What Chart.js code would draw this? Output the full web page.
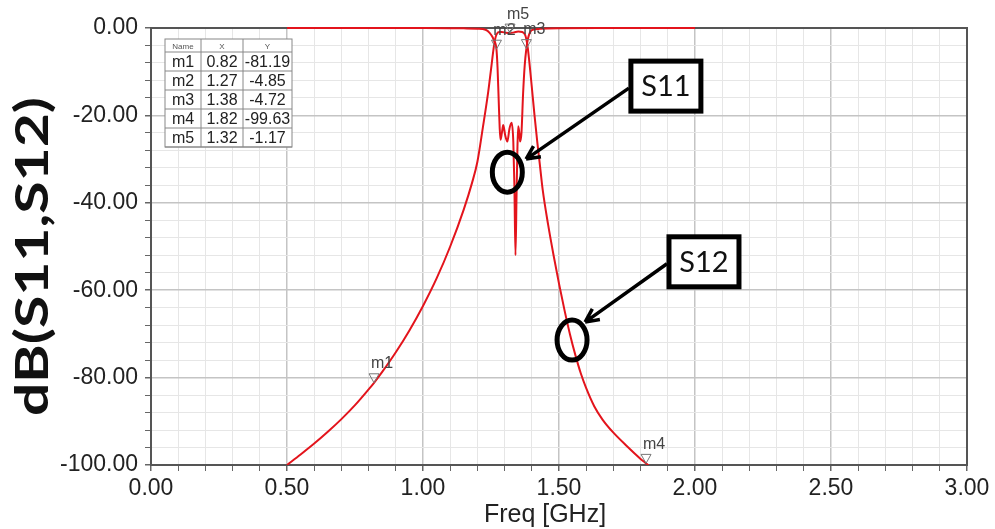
<!DOCTYPE html>
<html>
<head>
<meta charset="utf-8">
<script src="https://cdn.jsdelivr.net/npm/chart.js@4.4.0/dist/chart.umd.min.js"></script>
<style>
  html, body { margin: 0; padding: 0; background: #fff; }
</style>
</head>
<body>
<canvas id="chart" width="995" height="529"></canvas>
<script>
// S11 (reflection), GHz / dB
const s11Freq = [0.50, 0.80, 1.00, 1.10, 1.15, 1.20, 1.23, 1.245, 1.255, 1.262, 1.27, 1.274, 1.278, 1.282, 1.285,
  1.290, 1.295, 1.302, 1.310, 1.318, 1.326, 1.332, 1.336, 1.340, 1.344, 1.347, 1.350, 1.354, 1.357, 1.362,
  1.368, 1.374, 1.38, 1.386, 1.392, 1.40, 1.43, 1.50, 1.70, 2.00];
const s11Db = [0, 0, -0.02, -0.05, -0.08, -0.15, -0.4, -1.1, -2.0, -3.0, -4.85, -9, -16, -23, -25.6,
  -24, -22.2, -24.5, -26, -23, -21.7, -26, -36, -52, -38, -28, -22.5, -24, -26, -24,
  -15, -8.5, -4.72, -2.4, -1.2, -0.5, -0.2, -0.08, -0.02, 0];

// S12 (transmission)
const s12Freq = [0.50, 0.55, 0.60, 0.65, 0.70, 0.75, 0.80, 0.82, 0.85, 0.90, 0.95, 1.00, 1.05, 1.10, 1.15,
  1.18, 1.20, 1.22, 1.24, 1.25, 1.26, 1.265, 1.27, 1.28, 1.29, 1.305, 1.32, 1.335, 1.35, 1.365,
  1.375, 1.38, 1.385, 1.39, 1.395, 1.40, 1.41, 1.42, 1.43, 1.44, 1.46, 1.48, 1.50, 1.52, 1.54,
  1.56, 1.58, 1.60, 1.63, 1.66, 1.70, 1.75, 1.80, 1.82, 1.86];
const s12Db = [-100, -97.6, -95.1, -92.4, -89.5, -86.3, -82.7, -81.19, -78.7, -74.2, -69.2, -63.6, -57.3, -50.0, -41.5,
  -35.5, -30.6, -22.8, -14.5, -9.5, -4.5, -2.6, -1.5, -0.9, -0.9, -1.1, -1.17, -1.0, -0.8, -0.9,
  -1.5, -2.6, -4.5, -7.2, -10.3, -13.5, -20, -26, -31.5, -37, -45, -52, -58.5, -64.5, -70,
  -74.8, -79, -82.4, -86.6, -89.6, -92.6, -95.7, -98.6, -99.63, -101.7];

// markers (same as the readout table)
const markerNames = ['m1', 'm2', 'm3', 'm4', 'm5'];
const markerFreq = [0.82, 1.27, 1.38, 1.82, 1.32];
const markerDb = [-81.19, -4.85, -4.72, -99.63, -1.17];

// callouts: label, circle centre, arrow tip, box centre (data units)
const calloutLabels = ['S11', 'S12'];
const calloutCircle = [[1.31, -33], [1.548, -71.4]];
const calloutTip = [[1.379, -30], [1.596, -67.3]];
const calloutBox = [[1.893, -13.3], [2.033, -53.5]];

const red = '#e3141c';
const isMajorX = v => Math.abs(v * 2 - Math.round(v * 2)) < 1e-6;
const isMajorY = v => Math.abs(v % 20) < 1e-6;

function arrow(ctx, x0, y0, x1, y1) {
  ctx.beginPath();
  ctx.moveTo(x0, y0);
  ctx.lineTo(x1, y1);
  const ang = Math.atan2(y1 - y0, x1 - x0);
  for (const s of [-1, 1]) {
    ctx.moveTo(x1, y1);
    ctx.lineTo(x1 - 15 * Math.cos(ang + s * 0.45), y1 - 15 * Math.sin(ang + s * 0.45));
  }
  ctx.stroke();
}

const overlay = {
  id: 'overlay',
  beforeDatasetsDraw(chart) {
    const { ctx, chartArea: a } = chart;
    ctx.save();
    ctx.strokeStyle = '#555';
    ctx.lineWidth = 2;
    ctx.strokeRect(a.left, a.top, a.right - a.left, a.bottom - a.top);
    ctx.restore();
  },
  afterDatasetsDraw(chart) {
    const { ctx, chartArea: a, scales: { x, y } } = chart;
    ctx.save();

    // marker triangles + names
    ctx.font = '16px "Liberation Sans", Arial';
    ctx.textAlign = 'center';
    ctx.textBaseline = 'middle';
    markerNames.forEach((n, i) => {
      const px = x.getPixelForValue(markerFreq[i]);
      const py = y.getPixelForValue(markerDb[i]);
      ctx.beginPath();
      ctx.moveTo(px, py);
      ctx.lineTo(px - 5, py - 9);
      ctx.lineTo(px + 5, py - 9);
      ctx.closePath();
      ctx.strokeStyle = '#777';
      ctx.lineWidth = 1;
      ctx.stroke();
      ctx.fillStyle = '#444';
      ctx.fillText(n, px + 8, py - 19);
    });

    // marker readout table
    const tx = a.left + 14, ty = a.top + 11;
    const cols = [36, 42, 49], headH = 13, rowH = 19;
    const w = cols[0] + cols[1] + cols[2], h = headH + rowH * markerNames.length;
    ctx.fillStyle = '#fff';
    ctx.fillRect(tx, ty, w, h);
    ctx.strokeStyle = '#888';
    ctx.lineWidth = 1;
    ctx.strokeRect(tx, ty, w, h);
    let cx = tx;
    const centers = [];
    cols.forEach((c, j) => {
      centers.push(cx + c / 2);
      cx += c;
      if (j < 2) { ctx.beginPath(); ctx.moveTo(cx, ty); ctx.lineTo(cx, ty + h); ctx.stroke(); }
    });
    for (let r = 0; r <= markerNames.length; r++) {
      const ly = ty + headH + r * rowH;
      ctx.beginPath(); ctx.moveTo(tx, ly); ctx.lineTo(tx + w, ly); ctx.stroke();
    }
    ctx.fillStyle = '#555';
    ctx.font = '8px "Liberation Sans", Arial';
    ['Name', 'X', 'Y'].forEach((t, j) => ctx.fillText(t, centers[j], ty + headH / 2 + 1));
    ctx.fillStyle = '#222';
    ctx.font = '16px "Liberation Sans", Arial';
    markerNames.forEach((n, i) => {
      const ry = ty + headH + rowH * i + rowH / 2 + 1;
      ctx.fillText(n, centers[0], ry);
      ctx.fillText(markerFreq[i].toFixed(2), centers[1], ry);
      ctx.fillText(markerDb[i].toFixed(2), centers[2], ry);
    });

    // callouts
    ctx.strokeStyle = '#000';
    calloutLabels.forEach((lab, i) => {
      const ccx = x.getPixelForValue(calloutCircle[i][0]);
      const ccy = y.getPixelForValue(calloutCircle[i][1]);
      ctx.lineWidth = 5;
      ctx.beginPath();
      ctx.ellipse(ccx, ccy, 15, 20, 0, 0, Math.PI * 2);
      ctx.stroke();
      const bx = x.getPixelForValue(calloutBox[i][0]);
      const by = y.getPixelForValue(calloutBox[i][1]);
      ctx.fillStyle = '#fff';
      ctx.fillRect(bx - 35, by - 25, 70, 50);
      ctx.strokeRect(bx - 35, by - 25, 70, 50);
      ctx.fillStyle = '#111';
      ctx.font = '29px Lato, "Open Sans"';
      ctx.fillText(lab, bx, by + 1);
      ctx.lineWidth = 3.5;
      arrow(ctx, bx - 37, by + 2, x.getPixelForValue(calloutTip[i][0]), y.getPixelForValue(calloutTip[i][1]));
    });
    ctx.restore();
  },
  afterDraw(chart) {
    const { ctx, chartArea: a } = chart;
    ctx.save();
    ctx.textAlign = 'center';
    ctx.textBaseline = 'middle';
    // x axis title (sits a little left of the plot centre in the original)
    ctx.fillStyle = '#222';
    ctx.font = '25px "Liberation Sans", Arial';
    ctx.fillText('Freq [GHz]', (a.left + a.right) / 2 - 14, a.bottom + 50);
    // y axis title
    ctx.translate(33, (a.top + a.bottom) / 2 + 10);
    ctx.rotate(-Math.PI / 2);
    ctx.scale(1.28, 1);
    ctx.font = 'bold 46px Lato, "Open Sans"';
    ctx.fillStyle = '#111';
    ctx.fillText('dB(S11,S12)', 0, 0);
    ctx.restore();
  }
};

const toPoints = (xs, ys) => xs.map((v, i) => ({ x: v, y: ys[i] }));

new Chart(document.getElementById('chart'), {
  type: 'line',
  data: {
    datasets: [
      { label: 'S11', data: toPoints(s11Freq, s11Db) },
      { label: 'S12', data: toPoints(s12Freq, s12Db) }
    ]
  },
  options: {
    responsive: false,
    animation: false,
    events: [],
    layout: { padding: { left: 0, right: 28, top: 28, bottom: 0 } },
    elements: {
      point: { radius: 0 },
      line: { borderColor: red, borderWidth: 2, cubicInterpolationMode: 'monotone' }
    },
    datasets: { line: { clip: { left: 0, top: 3, right: 0, bottom: 0 } } },
    plugins: { legend: { display: false }, tooltip: { enabled: false } },
    scales: {
      x: {
        type: 'linear',
        min: 0, max: 3,
        afterFit(s) { s.height = 64; },
        ticks: {
          stepSize: 0.1,
          autoSkip: false,
          maxRotation: 0,
          padding: 4,
          color: '#222',
          font: { family: '"Liberation Sans", Arial', size: 23 },
          callback: v => isMajorX(v) ? v.toFixed(2) : ''
        },
        grid: {
          color: c => isMajorX(c.tick.value) ? '#c4c4c4' : '#e6e6e6',
          lineWidth: c => isMajorX(c.tick.value) ? 1.5 : 1,
          tickColor: '#666',
          tickLength: 6
        },
        border: { color: '#555', width: 2 }
      },
      y: {
        min: -100, max: 0,
        afterFit(s) { s.width = 151; },
        ticks: {
          stepSize: 4,
          autoSkip: false,
          padding: 7,
          color: '#222',
          font: { family: '"Liberation Sans", Arial', size: 23 },
          callback: v => isMajorY(v) ? v.toFixed(2) : ''
        },
        grid: {
          color: c => isMajorY(c.tick.value) ? '#c4c4c4' : '#e6e6e6',
          lineWidth: c => isMajorY(c.tick.value) ? 1.5 : 1,
          tickColor: '#666',
          tickLength: 6
        },
        border: { color: '#555', width: 2 }
      }
    }
  },
  plugins: [overlay]
});
</script>
</body>
</html>
